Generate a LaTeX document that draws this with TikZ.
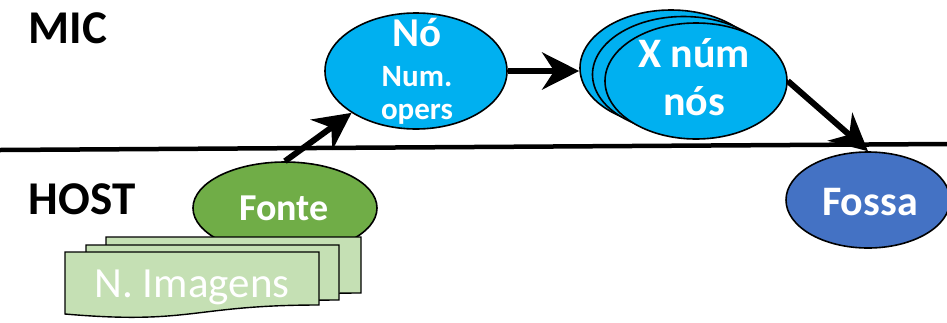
\documentclass[tikz,border=0pt]{standalone}
\usepackage{fontspec}
\setmainfont{Carlito}
\usetikzlibrary{shapes.geometric,arrows.meta}
\definecolor{micblue}{HTML}{00B0F0}
\definecolor{srcgreen}{HTML}{70AD47}
\definecolor{docgreen}{HTML}{C5E0B4}
\definecolor{sinkblue}{HTML}{4472C4}
\newcommand{\fsz}[1]{\fontsize{#1}{#1}\selectfont}
\begin{document}
\begin{tikzpicture}[x=1pt,y=-1pt,
  blob/.style={ellipse, draw=black, line width=1.6pt, inner sep=0pt},
  kernel/.style={blob, fill=micblue, minimum width=182pt, minimum height=116pt},
  doc/.style={draw=black, line width=1.4pt, fill=docgreen},
  flow/.style={line width=6pt, -{Stealth[length=37pt,width=37pt,inset=12pt]}},
  zone/.style={anchor=base, inner sep=0pt, font=\bfseries\fsz{47}},
  inlabel/.style={anchor=base, inner sep=0pt, text=white},
]
\useasboundingbox (0,0) rectangle (947,322);

% side labels and the host/device divider
\node[zone] (mic) at (68,43) {MIC};
\node[zone] (host) at (82,214) {HOST};
\coordinate (divl) at (0,150);
\coordinate (divr) at (947,144);
\draw[line width=4.5pt] (divl) -- (divr);

% source ellipse
\node[blob, fill=srcgreen, minimum width=184pt, minimum height=92pt] (fonte) at (285,208) {};
\node[inlabel, font=\bfseries\fsz{38}] (fontetxt) at (284,220) {Fonte};

% stacked image documents
\draw[doc] (106,237) -- (361,237) -- (361,293) .. controls (233,293) and (233,313) .. (106,302) -- cycle;
\draw[doc] (86,245) -- (339,245) -- (339,300) .. controls (212,300) and (212,320) .. (86,309) -- cycle;
\draw[doc] (65,252) -- (319,252) -- (319,305) .. controls (192,305) and (192,325) .. (65,314) -- cycle;
\node[inlabel, font=\fsz{43}] (imgs) at (192,297) {N. Imagens};

% single node on the device
\node[kernel] (no) at (416,71) {};
\node[inlabel, font=\bfseries\fsz{41}] (notxt) at (417,46) {Nó};
\node[inlabel, font=\bfseries\fsz{31}] (numtxt) at (417,86) {Num.};
\node[inlabel, font=\bfseries\fsz{31}] (opstxt) at (417,119) {opers};

% stack of replicated nodes
\node[kernel] (back) at (671,68) {};
\node[kernel] (mid) at (683.5,74.5) {};
\node[kernel] (front) at (696,81) {};
\node[inlabel, font=\bfseries\fsz{42}] (xtxt) at (694,67) {X núm};
\node[inlabel, font=\bfseries\fsz{42}] (nostxt) at (694,115) {nós};

% sink ellipse
\node[blob, fill=sinkblue, minimum width=164pt, minimum height=96pt] (fossa) at (868,200) {};
\node[inlabel, font=\bfseries\fsz{42}] (fossatxt) at (870,215) {Fossa};

% data flow
\draw[flow] (fonte.north) -- (no.213);
\draw[flow] (no.east) -- (no.east -| back.west);
\draw[flow] (front.east) -- (fossa.north);
\end{tikzpicture}
\end{document}
